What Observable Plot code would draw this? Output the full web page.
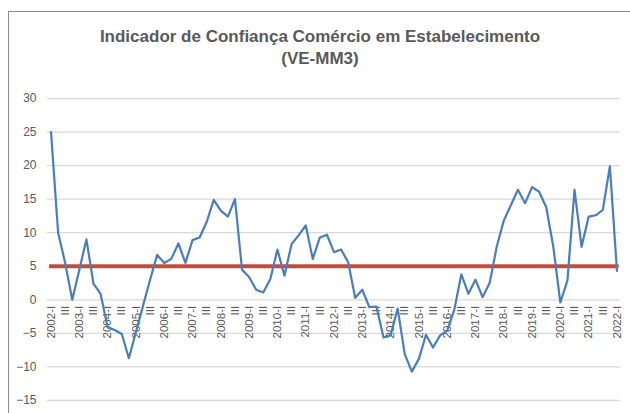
<!DOCTYPE html>
<html>
<head>
<meta charset="utf-8">
<script src="https://cdn.jsdelivr.net/npm/d3@7"></script>
<script src="https://cdn.jsdelivr.net/npm/@observablehq/plot@0.6"></script>
<style>
  html, body { margin: 0; padding: 0; background: #fff; }
  #wrap { position: relative; width: 630px; height: 413px; overflow: hidden; font-family: "Liberation Sans", Arial, sans-serif; }
  #frame { position: absolute; left: 8px; top: 11px; width: 640px; height: 420px; border-left: 1px solid #8c8c8c; border-top: 1px solid #8c8c8c; box-sizing: border-box; }
  #title { position: absolute; left: 0; width: 640px; top: 26px; text-align: center; color: #595959; font-weight: bold; font-size: 17px; line-height: 22px; z-index: 2; }
  #chart { position: absolute; left: 0; top: 0; }
</style>
</head>
<body>
<div id="wrap">
  <div id="frame"></div>
  <div id="title">Indicador de Confiança Comércio em Estabelecimento<br>(VE-MM3)</div>
  <div id="chart"></div>
</div>
<script>
const years = d3.range(2002, 2023);
const quarterNames = ["I", "II", "III", "IV"];
const categories = years.flatMap(y => quarterNames.map(q => `${y}-${q}`)).slice(0, 81);
const values = [25, 10, 5.5, 0, 4.5, 9, 2.4, 0.9, -4.1, -4.5,
  -5.1, -8.7, -4.8, -0.9, 3.0, 6.7, 5.5, 6.1, 8.4, 5.5,
  8.9, 9.3, 11.6, 14.9, 13.3, 12.4, 15, 4.5, 3.4, 1.5,
  1.1, 3.1, 7.5, 3.6, 8.3, 9.6, 11.1, 6.1, 9.3, 9.7,
  7.1, 7.5, 5.6, 0.3, 1.5, -1.1, -1.0, -5.6, -5.3, -1.3,
  -8.1, -10.7, -8.8, -5.2, -7.1, -5.3, -4.6, -1.5, 3.8, 0.9,
  3.0, 0.4, 2.5, 7.9, 11.8, 14.1, 16.4, 14.4, 16.8, 16.1,
  13.8, 7.9, -0.4, 2.9, 16.4, 7.9, 12.4, 12.6, 13.4, 19.9, 4.3];
const reference = [5];
const yTicks = [-15, -10, -5, 0, 5, 10, 15, 20, 25, 30];

const data = values.map((v, i) => ({i, label: categories[i], v}));
const tickLabels = data
  .filter(d => d.i % 2 === 0)
  .map(d => ({i: d.i, text: d.i % 4 === 0 ? d.label : "III"}));

const chart = Plot.plot({
  width: 630,
  height: 413,
  marginTop: 98,
  marginBottom: 13,
  marginLeft: 47,
  marginRight: 10,
  style: {fontFamily: "'Liberation Sans', Arial, sans-serif", background: "transparent"},
  x: {domain: [-0.5, 80.5], axis: null},
  y: {domain: [-15, 30]},
  marks: [
    Plot.gridY(yTicks, {stroke: "#d9d9d9", strokeOpacity: 1, strokeWidth: 1.3}),
    Plot.axisY(yTicks, {tickSize: 0, tickPadding: 11, fontSize: 12, fill: "#595959", label: null}),
    Plot.text(tickLabels, {x: "i", y: () => 0, text: "text", rotate: -90, textAnchor: "end", dy: 6, fontSize: 11.5, fill: "#595959"}),
    Plot.ruleY(reference, {x1: -0.2, x2: 80.3, stroke: "#c0392b", strokeWidth: 4, strokeOpacity: 0.9}),
    Plot.line(data, {x: "i", y: "v", stroke: "#4a7ebb", strokeWidth: 2.2, strokeLinejoin: "round"})
  ]
});
document.getElementById("chart").appendChild(chart);
</script>
</body>
</html>
